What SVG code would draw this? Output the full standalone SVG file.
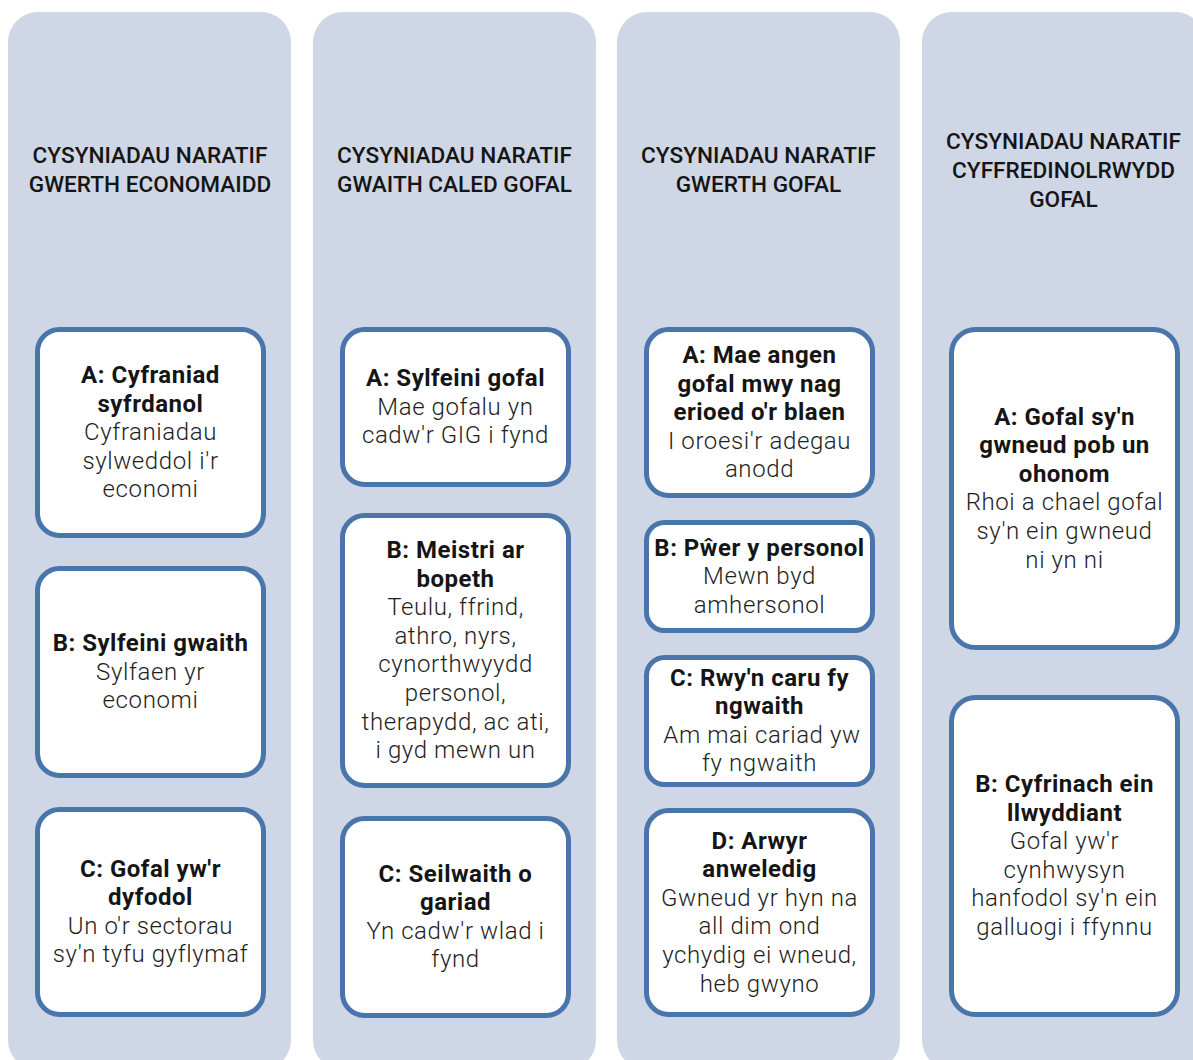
<svg xmlns="http://www.w3.org/2000/svg" width="1193" height="1060" viewBox="0 0 1193 1060">
<style>
.col{fill:#cfd7e6;}
.box{fill:#ffffff;stroke:#4a75aa;stroke-width:5;}
text{font-family:Roboto,"Liberation Sans",sans-serif;text-anchor:middle;fill:#151515;}
.h{font-size:22.6px;font-weight:500;}
.t{font-size:24px;font-weight:700;letter-spacing:0.5px;}
.b{font-size:24px;font-weight:300;fill:#1e1e1e;letter-spacing:0.6px;}
</style>
<rect width="1193" height="1060" fill="#ffffff"/>
<g id="col1">
<rect class="col" x="8" y="12" width="283" height="1058" rx="30"/>
<text class="h" x="150" y="163">CYSYNIADAU NARATIF</text>
<text class="h" x="150" y="192">GWERTH ECONOMAIDD</text>
</g>
<g id="col2">
<rect class="col" x="313" y="12" width="283" height="1058" rx="30"/>
<text class="h" x="454.5" y="163">CYSYNIADAU NARATIF</text>
<text class="h" x="454.5" y="192">GWAITH CALED GOFAL</text>
</g>
<g id="col3">
<rect class="col" x="617" y="12" width="283" height="1058" rx="30"/>
<text class="h" x="758.5" y="163">CYSYNIADAU NARATIF</text>
<text class="h" x="758.5" y="192">GWERTH GOFAL</text>
</g>
<g id="col4">
<rect class="col" x="922" y="12" width="283" height="1058" rx="30"/>
<text class="h" x="1063.5" y="149">CYSYNIADAU NARATIF</text>
<text class="h" x="1063.5" y="178">CYFFREDINOLRWYDD</text>
<text class="h" x="1063.5" y="207">GOFAL</text>
</g>
<g id="connectors"></g>
<g id="c1a">
<rect class="box" x="37.5" y="329.5" width="226" height="206" rx="22"/>
<text class="t" x="150.5" y="383">A: Cyfraniad</text>
<text class="t" x="150.5" y="411.6">syfrdanol</text>
<text class="b" x="150.5" y="440.2">Cyfraniadau</text>
<text class="b" x="150.5" y="468.8">sylweddol i'r</text>
<text class="b" x="150.5" y="497.4">economi</text>
</g>
<g id="c1b">
<rect class="box" x="37.5" y="568.5" width="226" height="207" rx="22"/>
<text class="t" x="150.5" y="651">B: Sylfeini gwaith</text>
<text class="b" x="150.5" y="679.6">Sylfaen yr</text>
<text class="b" x="150.5" y="708.2">economi</text>
</g>
<g id="c1c">
<rect class="box" x="37.5" y="809.5" width="226" height="205" rx="22"/>
<text class="t" x="150.5" y="876.6">C: Gofal yw'r</text>
<text class="t" x="150.5" y="905.2">dyfodol</text>
<text class="b" x="150.5" y="933.8">Un o'r sectorau</text>
<text class="b" x="150.5" y="962.4">sy'n tyfu gyflymaf</text>
</g>
<g id="c2a">
<rect class="box" x="342.5" y="329.5" width="226" height="155" rx="22"/>
<text class="t" x="455.5" y="386">A: Sylfeini gofal</text>
<text class="b" x="455.5" y="414.6">Mae gofalu yn</text>
<text class="b" x="455.5" y="443.2">cadw'r GIG i fynd</text>
</g>
<g id="c2b">
<rect class="box" x="342.5" y="515.5" width="226" height="270" rx="22"/>
<text class="t" x="455.5" y="558">B: Meistri ar</text>
<text class="t" x="455.5" y="586.6">bopeth</text>
<text class="b" x="455.5" y="615.2">Teulu, ffrind,</text>
<text class="b" x="455.5" y="643.8">athro, nyrs,</text>
<text class="b" x="455.5" y="672.4">cynorthwyydd</text>
<text class="b" x="455.5" y="701">personol,</text>
<text class="b" x="455.5" y="729.6">therapydd, ac ati,</text>
<text class="b" x="455.5" y="758.2">i gyd mewn un</text>
</g>
<g id="c2c">
<rect class="box" x="342.5" y="818.5" width="226" height="197" rx="22"/>
<text class="t" x="455.5" y="881.6">C: Seilwaith o</text>
<text class="t" x="455.5" y="910.2">gariad</text>
<text class="b" x="455.5" y="938.8">Yn cadw'r wlad i</text>
<text class="b" x="455.5" y="967.4">fynd</text>
</g>
<g id="c3a">
<rect class="box" x="646.5" y="329.5" width="226" height="166" rx="22"/>
<text class="t" x="759.5" y="363">A: Mae angen</text>
<text class="t" x="759.5" y="391.6">gofal mwy nag</text>
<text class="t" x="759.5" y="420.2">erioed o'r blaen</text>
<text class="b" x="759.5" y="448.8">I oroesi'r adegau</text>
<text class="b" x="759.5" y="477.4">anodd</text>
</g>
<g id="c3b">
<rect class="box" x="646.5" y="522.5" width="226" height="108" rx="18"/>
<text class="t" x="759.5" y="555.5">B: Pŵer y personol</text>
<text class="b" x="759.5" y="584.1">Mewn byd</text>
<text class="b" x="759.5" y="612.7">amhersonol</text>
</g>
<g id="c3c">
<rect class="box" x="646.5" y="657.5" width="226" height="127" rx="18"/>
<text class="t" x="759.5" y="685.6">C: Rwy'n caru fy</text>
<text class="t" x="759.5" y="714.2">ngwaith</text>
<text class="b" x="762" y="742.8">Am mai cariad yw</text>
<text class="b" x="759.5" y="771.4">fy ngwaith</text>
</g>
<g id="c3d">
<rect class="box" x="646.5" y="810.5" width="226" height="204" rx="22"/>
<text class="t" x="759.5" y="848.5">D: Arwyr</text>
<text class="t" x="759.5" y="877.1">anweledig</text>
<text class="b" x="759.5" y="905.7">Gwneud yr hyn na</text>
<text class="b" x="759.5" y="934.3">all dim ond</text>
<text class="b" x="759.5" y="962.9">ychydig ei wneud,</text>
<text class="b" x="759.5" y="991.5">heb gwyno</text>
</g>
<g id="c4a">
<rect class="box" x="951.5" y="329.5" width="226" height="318" rx="24"/>
<text class="t" x="1064.5" y="424.5">A: Gofal sy'n</text>
<text class="t" x="1064.5" y="453.1">gwneud pob un</text>
<text class="t" x="1064.5" y="481.7">ohonom</text>
<text class="b" x="1064.5" y="510.3">Rhoi a chael gofal</text>
<text class="b" x="1064.5" y="538.9">sy'n ein gwneud</text>
<text class="b" x="1064.5" y="567.5">ni yn ni</text>
</g>
<g id="c4b">
<rect class="box" x="951.5" y="697.5" width="226" height="317" rx="24"/>
<text class="t" x="1064.5" y="792">B: Cyfrinach ein</text>
<text class="t" x="1064.5" y="820.6">llwyddiant</text>
<text class="b" x="1064.5" y="849.2">Gofal yw'r</text>
<text class="b" x="1064.5" y="877.8">cynhwysyn</text>
<text class="b" x="1064.5" y="906.4">hanfodol sy'n ein</text>
<text class="b" x="1064.5" y="935">galluogi i ffynnu</text>
</g>
</svg>
